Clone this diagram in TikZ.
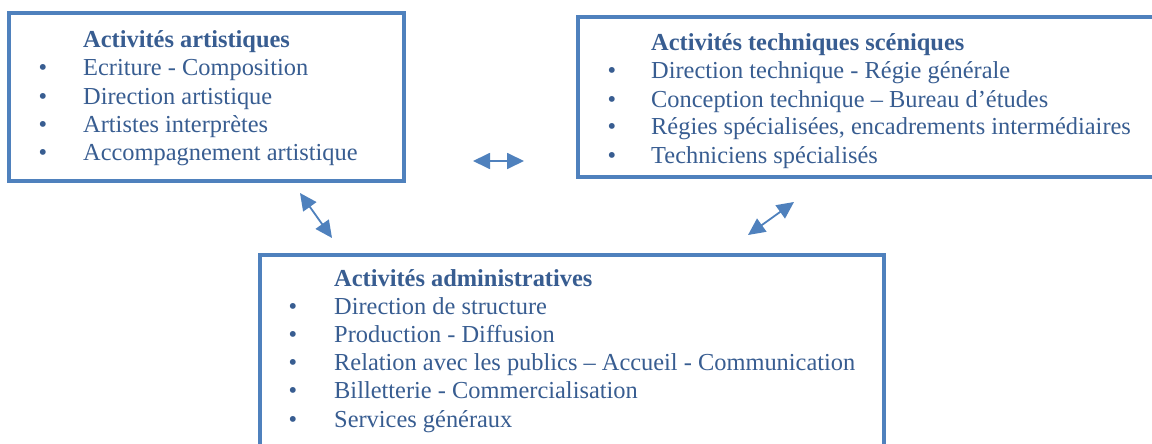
\documentclass[tikz,border=0pt]{standalone}
\usepackage{fontspec}
\setmainfont{Liberation Serif}
\usetikzlibrary{arrows.meta}
\definecolor{boxblue}{RGB}{79,129,189}
\definecolor{txtblue}{RGB}{56,93,145}
\tikzset{
  panel/.style={draw=boxblue, line width=3.6pt, rectangle, inner sep=0pt},
  ttl/.style={anchor=base west, inner sep=0pt, text=txtblue, font=\fontsize{24.4}{28}\selectfont\bfseries},
  itm/.style={anchor=base west, inner sep=0pt, text=txtblue, font=\fontsize{24.4}{28}\selectfont},
  bul/.style={anchor=base, inner sep=0pt, text=txtblue, font=\fontsize{24.4}{28}\selectfont},
  link/.style={draw=boxblue, line width=1.8pt, {Triangle[length=17pt,width=16pt]}-{Triangle[length=17pt,width=16pt]}}
}
\begin{document}
\begin{tikzpicture}[x=1pt,y=-1pt]
\useasboundingbox (0,0) rectangle (1152,444);
\clip (0,0) rectangle (1152,444);
\fill[white] (0,0) rectangle (1152,444);
% boxes
\node[panel, minimum width=395pt, minimum height=168pt] (art) at (206.5,97) {};
\node[panel, minimum width=590pt, minimum height=160pt] (tech) at (873,97) {};
\node[panel, minimum width=624pt, minimum height=220pt] (adm) at (572,365) {};
% box 1
\node[ttl] (t1) at (83,48) {Activités artistiques};
\foreach \y/\t [count=\i] in {76/Ecriture - Composition, 104/Direction artistique, 132/Artistes interprètes, 160/Accompagnement artistique}{
  \node[bul] (b1\i) at (43,\y) {\textbullet};
  \node[itm] (i1\i) at (83,\y) {\t};
}
% box 2
\node[ttl] (t2) at (651,51) {Activités techniques scéniques};
\foreach \y/\t [count=\i] in {79/Direction technique - Régie générale, 107/Conception technique – Bureau d’études, 135/{Régies spécialisées, encadrements intermédiaires}, 163/Techniciens spécialisés}{
  \node[bul] (b2\i) at (612,\y) {\textbullet};
  \node[itm] (i2\i) at (651,\y) {\t};
}
% box 3
\node[ttl] (t3) at (334,286) {Activités administratives};
\foreach \y/\t [count=\i] in {314/Direction de structure, 342/Production - Diffusion, 370/Relation avec les publics – Accueil - Communication, 398/Billetterie - Commercialisation, 427/Services généraux}{
  \node[bul] (b3\i) at (293,\y) {\textbullet};
  \node[itm] (i3\i) at (334,\y) {\t};
}
% arrows
\coordinate (p1) at (300,193);
\coordinate (q1) at (332,238);
\coordinate (p2) at (473,161);
\coordinate (q2) at (524,161);
\coordinate (p3) at (748,235);
\coordinate (q3) at (794,202);
\draw[link] (p1) -- (q1);
\draw[link] (p2) -- (q2);
\draw[link] (p3) -- (q3);
\end{tikzpicture}
\end{document}
